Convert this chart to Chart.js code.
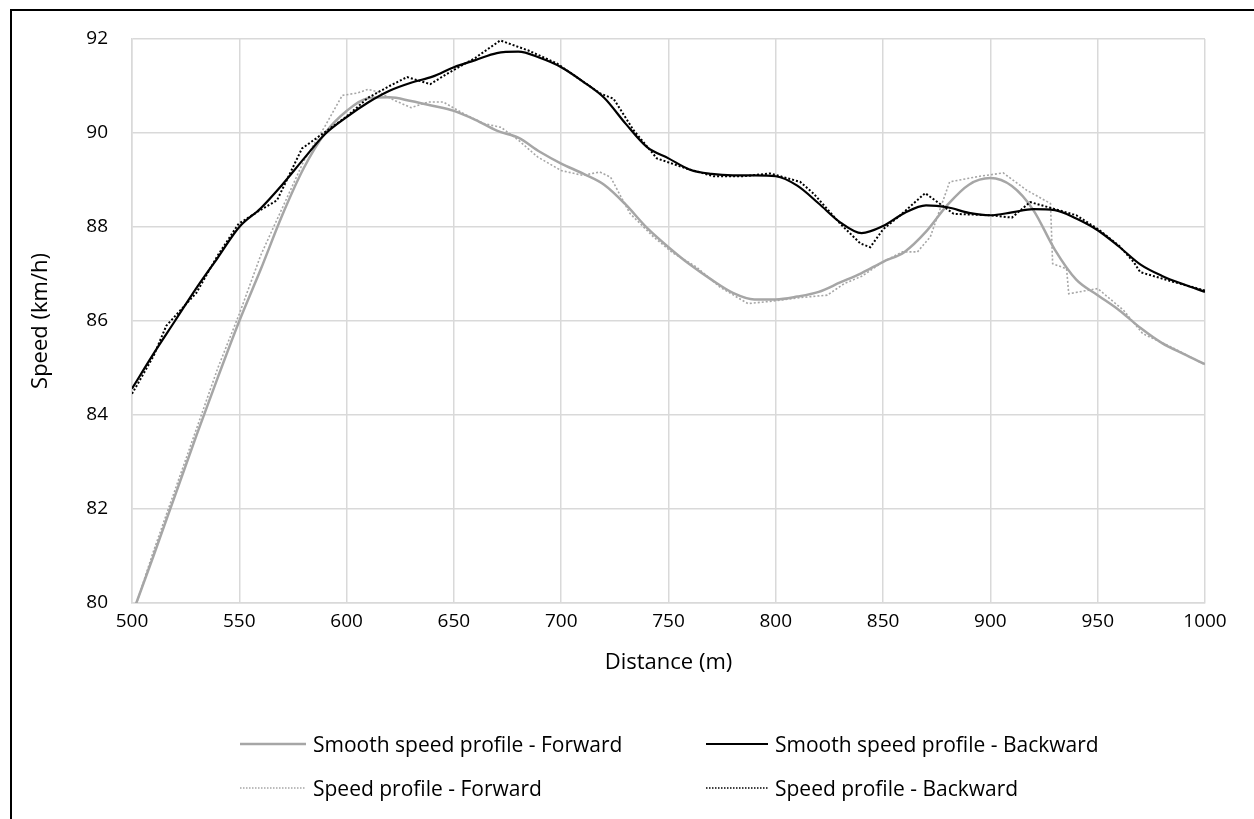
<!DOCTYPE html>
<html>
<head>
<meta charset="utf-8">
<script src="https://cdn.jsdelivr.net/npm/chart.js@4.4.1/dist/chart.umd.min.js"></script>
<style>
  html, body { margin: 0; padding: 0; background: #fff; }
  #wrap { position: relative; width: 1254px; height: 819px; font-family: "Open Sans", sans-serif; }
  #frame { position: absolute; left: 10px; top: 9px; right: -4px; bottom: -4px; border-left: 2px solid #000; border-top: 2px solid #000; }
  #legend { position: absolute; left: 0; top: 0; width: 100%; height: 100%; pointer-events: none; }
  .item { position: absolute; display: flex; align-items: center; font-size: 21px; color: #000; white-space: nowrap; }
  .item svg { margin-right: 7px; }
</style>
</head>
<body>
<div id="wrap">
  <div id="frame"></div>
  <canvas id="myChart"></canvas>
  <div id="legend"></div>
</div>
<script>
// smooth profiles, sampled every 10 m
const distSmooth = [500, 510, 520, 530, 540, 550, 560, 570, 580, 590, 600, 610, 620, 630, 640, 650, 660, 670, 680, 690,
  700, 710, 720, 730, 740, 750, 760, 770, 780, 790, 800, 810, 820, 830, 840, 850, 860, 870, 880, 890,
  900, 910, 920, 930, 940, 950, 960, 970, 980, 990, 1000];
const smoothForward = [79.75, 81.0, 82.28, 83.56, 84.8, 86.0, 87.1, 88.25, 89.25, 90.0, 90.47, 90.74, 90.76, 90.68, 90.58, 90.47, 90.28, 90.05, 89.9, 89.6,
  89.35, 89.14, 88.9, 88.48, 87.98, 87.57, 87.2, 86.88, 86.6, 86.46, 86.46, 86.52, 86.62, 86.82, 87.02, 87.26, 87.47, 87.9, 88.47, 88.9,
  89.04, 88.87, 88.36, 87.52, 86.88, 86.55, 86.23, 85.85, 85.53, 85.3, 85.08];
const smoothBackward = [84.56, 85.3, 86.0, 86.7, 87.35, 88.0, 88.4, 88.9, 89.45, 89.98, 90.34, 90.65, 90.9, 91.07, 91.2, 91.4, 91.55, 91.7, 91.73, 91.6,
  91.4, 91.1, 90.75, 90.2, 89.7, 89.46, 89.22, 89.13, 89.1, 89.1, 89.08, 88.88, 88.5, 88.1, 87.87, 88.02, 88.3, 88.46, 88.42, 88.3,
  88.25, 88.31, 88.38, 88.36, 88.18, 87.93, 87.58, 87.2, 86.96, 86.78, 86.62];

// raw profiles
const distRawForward = [500, 510, 520, 530, 540, 550, 560, 570, 580, 590, 598, 605, 610, 615, 622, 630, 638, 645, 655, 664,
  672, 680, 689, 700, 710, 718, 723, 732, 743, 752, 763, 774, 787, 800, 812, 824, 832, 840, 850, 859,
  866, 872, 881, 895, 906, 917, 928, 929, 935.5, 936.5, 950, 962, 971, 985, 1000];
const rawForward = [79.7, 81.1, 82.4, 83.7, 85.0, 86.15, 87.4, 88.4, 89.4, 90.15, 90.8, 90.85, 90.93, 90.87, 90.7, 90.54, 90.66, 90.66, 90.4, 90.2,
  90.12, 89.85, 89.49, 89.2, 89.1, 89.17, 89.06, 88.29, 87.79, 87.45, 87.15, 86.72, 86.37, 86.43, 86.5, 86.55, 86.8, 86.95, 87.26, 87.47,
  87.47, 87.79, 88.96, 89.08, 89.15, 88.78, 88.5, 87.22, 87.11, 86.58, 86.69, 86.23, 85.73, 85.43, 85.07];
const distRawBackward = [500, 510, 516, 520, 530, 540, 549.7, 559.8, 567.6, 579.2, 587.8, 600, 610, 620, 628.2, 639, 646.8, 660, 671.6, 685,
  698, 710, 718.2, 724.4, 733.7, 744.6, 758.6, 771, 785, 797.4, 811.4, 817.6, 830, 839.4, 844, 850, 858, 869.6, 882.9, 900,
  910, 918.5, 929.4, 940, 950, 960, 966.7, 969.8, 985.4, 1000];
const rawBackward = [84.45, 85.25, 85.9, 86.1, 86.6, 87.4, 88.07, 88.36, 88.57, 89.67, 89.95, 90.35, 90.75, 91.0, 91.19, 91.04, 91.26, 91.6, 91.97, 91.75,
  91.48, 91.1, 90.84, 90.73, 90.06, 89.46, 89.24, 89.08, 89.08, 89.14, 88.96, 88.71, 88.07, 87.65, 87.57, 87.95, 88.25, 88.72, 88.28, 88.25,
  88.2, 88.53, 88.39, 88.25, 87.96, 87.6, 87.26, 87.04, 86.83, 86.65];

const xTicks = [500, 550, 600, 650, 700, 750, 800, 850, 900, 950, 1000];
const yTicks = [80, 82, 84, 86, 88, 90, 92];

const seriesLabels = [
  'Smooth speed profile - Forward',
  'Smooth speed profile - Backward',
  'Speed profile - Forward',
  'Speed profile - Backward'
];

function pts(xs, ys) {
  return xs.map((x, i) => ({ x: x, y: ys[i] }));
}

const grey = '#a6a6a6';
const FONT = { family: '"Open Sans", sans-serif', size: 19 };
const TITLE_FONT = { family: '"Open Sans", sans-serif', size: 22 };

const datasets = [
  { label: seriesLabels[0], data: pts(distSmooth, smoothForward), borderColor: grey, borderWidth: 2.5, cubicInterpolationMode: 'monotone', order: 4 },
  { label: seriesLabels[1], data: pts(distSmooth, smoothBackward), borderColor: '#000', borderWidth: 2.2, cubicInterpolationMode: 'monotone', order: 2 },
  { label: seriesLabels[2], data: pts(distRawForward, rawForward), borderColor: grey, borderWidth: 1.6, borderDash: [2, 2], tension: 0, order: 3 },
  { label: seriesLabels[3], data: pts(distRawBackward, rawBackward), borderColor: '#000', borderWidth: 2, borderDash: [2, 2], tension: 0, order: 1 }
];

const ctx = document.getElementById('myChart');

new Chart(ctx, {
  type: 'line',
  data: { datasets: datasets },
  options: {
    responsive: true,
    maintainAspectRatio: false,
    animation: false,
    events: [],
    elements: { point: { radius: 0 } },
    layout: { padding: { left: 0, top: 39, right: 49, bottom: 126 } },
    plugins: {
      legend: { display: false },
      tooltip: { enabled: false }
    },
    scales: {
      x: {
        type: 'linear',
        min: 500,
        max: 1000,
        afterBuildTicks: (axis) => { axis.ticks = xTicks.map(v => ({ value: v })); },
        afterFit: (axis) => { axis.height = 90; },
        grid: { color: '#d9d9d9', lineWidth: 1.5, drawTicks: false },
        border: { color: '#d9d9d9', width: 1.5 },
        ticks: { color: '#000', font: FONT, padding: 7, maxRotation: 0, callback: (v) => String(v) },
        title: { display: true, text: 'Distance (m)', color: '#000', font: TITLE_FONT, padding: { top: 0, bottom: 17 } }
      },
      y: {
        min: 80,
        max: 92,
        afterBuildTicks: (axis) => { axis.ticks = yTicks.map(v => ({ value: v })); },
        afterFit: (axis) => { axis.width = 132; },
        grid: { color: '#d9d9d9', lineWidth: 1.5, drawTicks: false },
        border: { color: '#d9d9d9', width: 1.5 },
        ticks: { color: '#000', font: FONT, padding: 24, callback: (v) => String(v) },
        title: { display: true, text: 'Speed (km/h)', color: '#000', font: TITLE_FONT, padding: { top: 28, bottom: 0 } }
      }
    }
  }
});

// legend laid out in two aligned columns under the plot
const legendPos = [
  { left: 240, top: 744 },
  { left: 706, top: 744 },
  { left: 240, top: 788 },
  { left: 706, top: 788 }
];
const legend = document.getElementById('legend');
datasets.forEach((ds, i) => {
  const el = document.createElement('div');
  el.className = 'item';
  el.style.left = legendPos[i].left + 'px';
  el.style.top = (legendPos[i].top - 15) + 'px';
  el.style.height = '30px';
  const w = i % 2 === 0 ? 66 : 62;
  const dash = ds.borderDash ? 'stroke-dasharray="1.5 1.5"' : '';
  const sw = ds.borderDash ? 1.5 : ds.borderWidth;
  el.innerHTML = '<svg width="' + w + '" height="6"><line x1="0" y1="3" x2="' + w + '" y2="3" stroke="' + ds.borderColor +
    '" stroke-width="' + sw + '" ' + dash + '/></svg><span>' + ds.label + '</span>';
  legend.appendChild(el);
});
</script>
</body>
</html>
